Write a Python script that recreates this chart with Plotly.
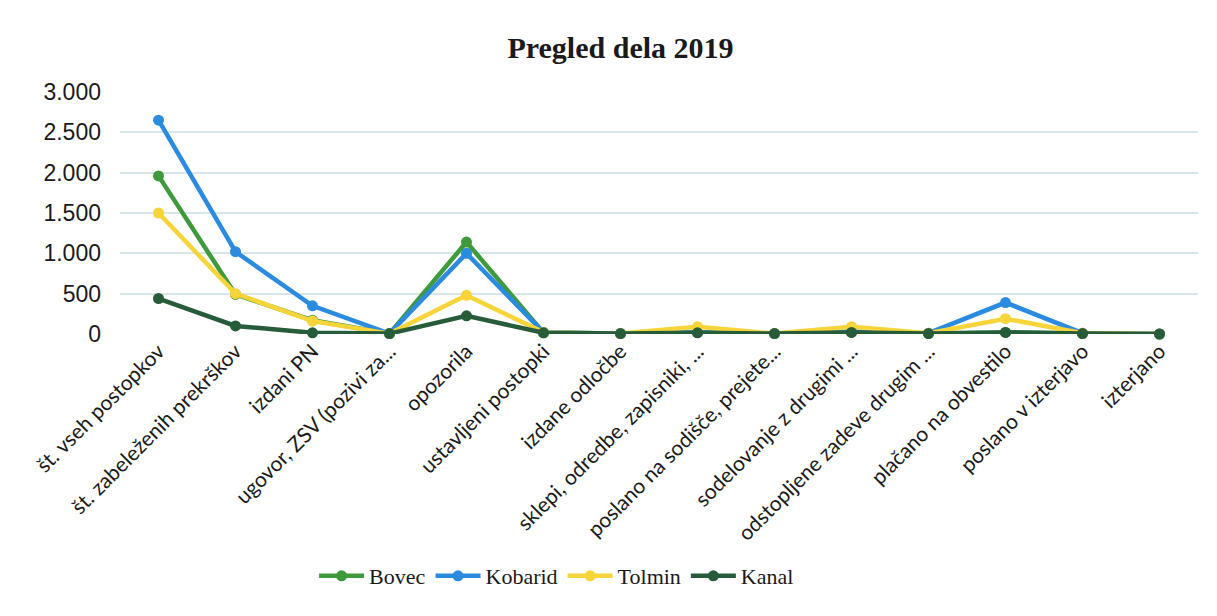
import plotly.graph_objects as go

categories = [
    "št. vseh postopkov",
    "št. zabeleženih prekrškov",
    "izdani PN",
    "ugovor, ZSV (pozivi za...",
    "opozorila",
    "ustavljeni postopki",
    "izdane odločbe",
    "sklepi, odredbe, zapisniki, ...",
    "poslano na sodišče, prejete...",
    "sodelovanje z drugimi ...",
    "odstopljene zadeve drugim ...",
    "plačano na obvestilo",
    "poslano v izterjavo",
    "izterjano",
]

bovec   = [1960, 490, 170, 5, 1140, 15, 5, 20, 5, 20, 5, 20, 5, 0]
kobarid = [2650, 1020, 350, 5, 1000, 20, 5, 20, 5, 30, 10, 390, 10, 0]
tolmin  = [1500, 500, 160, 5, 480, 20, 5, 90, 5, 90, 10, 190, 10, 0]
kanal   = [440, 100, 15, 5, 225, 15, 5, 15, 5, 20, 5, 20, 5, 0]

series = [
    ("Bovec", bovec, "#3f9a3c"),
    ("Kobarid", kobarid, "#2a8be0"),
    ("Tolmin", tolmin, "#f6d43a"),
    ("Kanal", kanal, "#265c3a"),
]

fig = go.Figure()
for name, vals, col in series:
    fig.add_trace(go.Scatter(
        x=categories, y=vals, name=name, mode="lines+markers",
        line=dict(color=col, width=4.5),
        marker=dict(color=col, size=11),
        cliponaxis=False,
    ))

fig.update_layout(
    width=1201, height=600,
    paper_bgcolor="white", plot_bgcolor="white",
    margin=dict(l=112, r=11, t=84, b=274, autoexpand=False),
    separators=",.",
    title=dict(text="<b>Pregled dela 2019</b>", x=0.51, xanchor="center",
               y=0.935, yanchor="middle",
               font=dict(family="Liberation Serif", size=30, color="#1a1a1a")),
    showlegend=True,
    legend=dict(orientation="h", x=0.405, xanchor="center", y=-1.0, yanchor="middle",
                font=dict(family="Liberation Serif", size=22, color="#1a1a1a"),
                itemwidth=45, tracegroupgap=0),
    xaxis=dict(type="category", range=[-0.5, 13.5], showgrid=False, zeroline=False,
               showline=False, tickangle=-45, automargin=False,
               tickfont=dict(family="Lato", size=21, color="#1a1a1a")),
    yaxis=dict(range=[0, 3000], tickvals=[0, 500, 1000, 1500, 2000, 2500, 3000],
               tickformat=",d", showgrid=True, gridcolor="#d6e6ea", gridwidth=1.5,
               zeroline=False, showline=False, ticklabelstandoff=18, automargin=False,
               tickfont=dict(family="Liberation Sans", size=23, color="#1a1a1a")),
)

fig.write_html("out.html")
